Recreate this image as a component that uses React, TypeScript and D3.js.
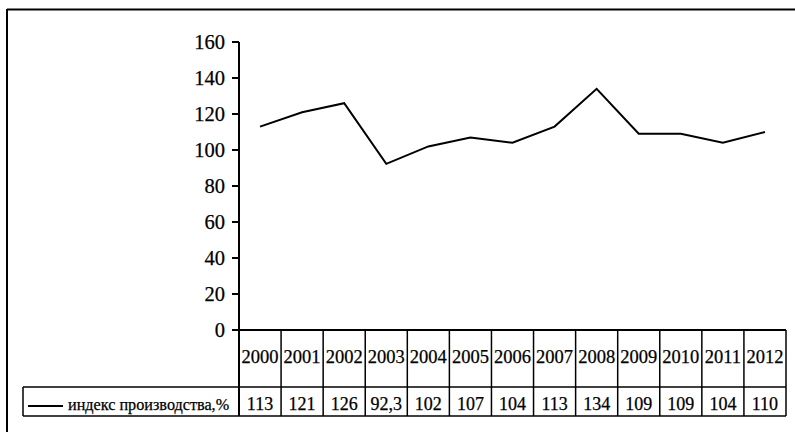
import React from "react";
import * as d3 from "d3";

const years = ["2000","2001","2002","2003","2004","2005","2006","2007","2008","2009","2010","2011","2012"];
const values = [113, 121, 126, 92.3, 102, 107, 104, 113, 134, 109, 109, 104, 110];
const valueLabels = ["113","121","126","92,3","102","107","104","113","134","109","109","104","110"];
const yTicks = [0, 20, 40, 60, 80, 100, 120, 140, 160];
const seriesName = "индекс производства,%";

const FF = "Liberation Serif";

export default function App() {
  const W = 795, H = 432;
  const x = d3.scaleBand<string>().domain(years).range([239, 786]).paddingInner(0).paddingOuter(0);
  const y = d3.scaleLinear().domain([0, 160]).range([330, 42]);
  const line = d3.line<number>().x((_, i) => (x(years[i]) as number) + x.bandwidth() / 2).y(d => y(d));
  const row1Bottom = 387;
  const row2Bottom = 416;
  const legendLeft = 23;
  return (
    <svg width={W} height={H} style={{ position: "absolute", left: 0, top: 0 }}>
      <rect x={0} y={0} width={W} height={H} fill="#fff" />
      <g fill="#000" stroke="#000" strokeWidth={0.25}>
        {yTicks.map(t => (
          <text key={t} x={225} y={y(t) + 7} textAnchor="end" fontSize={20.5} fontFamily={FF}>{t}</text>
        ))}
        {years.map((yr, i) => {
          const cx = (x(yr) as number) + x.bandwidth() / 2;
          return (
            <g key={yr}>
              <text x={cx} y={363} textAnchor="middle" fontSize={18.5} fontFamily={FF}>{yr}</text>
              <text x={cx} y={410} textAnchor="middle" fontSize={18} fontFamily={FF}>{valueLabels[i]}</text>
            </g>
          );
        })}
        <text x={68} y={410} fontSize={16.2} fontFamily={FF}>{seriesName}</text>
      </g>
      {/* outer frame */}
      <line x1={7} y1={9.5} x2={W} y2={9.5} stroke="#000" strokeWidth={2} />
      <line x1={7} y1={9} x2={7} y2={H} stroke="#000" strokeWidth={2} />
      {/* y axis */}
      <line x1={239} y1={y(160)} x2={239} y2={row2Bottom} stroke="#000" strokeWidth={2} />
      {yTicks.map(t => (
        <line key={t} x1={232} x2={239} y1={y(t)} y2={y(t)} stroke="#000" strokeWidth={2} />
      ))}
      {/* data line */}
      <path d={line(values) ?? ""} fill="none" stroke="#000" strokeWidth={2} strokeLinejoin="miter" />
      {/* table */}
      <line x1={239} x2={x.range()[1]} y1={330} y2={330} stroke="#000" strokeWidth={2} />
      <line x1={legendLeft} x2={x.range()[1]} y1={row1Bottom} y2={row1Bottom} stroke="#000" strokeWidth={1.5} />
      <line x1={legendLeft} x2={x.range()[1]} y1={row2Bottom} y2={row2Bottom} stroke="#000" strokeWidth={1.5} />
      <line x1={legendLeft} x2={legendLeft} y1={row1Bottom} y2={row2Bottom} stroke="#000" strokeWidth={1.5} />
      {years.map(yr => {
        const x1 = (x(yr) as number) + x.bandwidth();
        return <line key={yr} x1={x1} x2={x1} y1={330} y2={row2Bottom} stroke="#000" strokeWidth={1.5} />;
      })}
      {/* legend */}
      <line x1={28} x2={63} y1={406} y2={406} stroke="#000" strokeWidth={2} />
    </svg>
  );
}
